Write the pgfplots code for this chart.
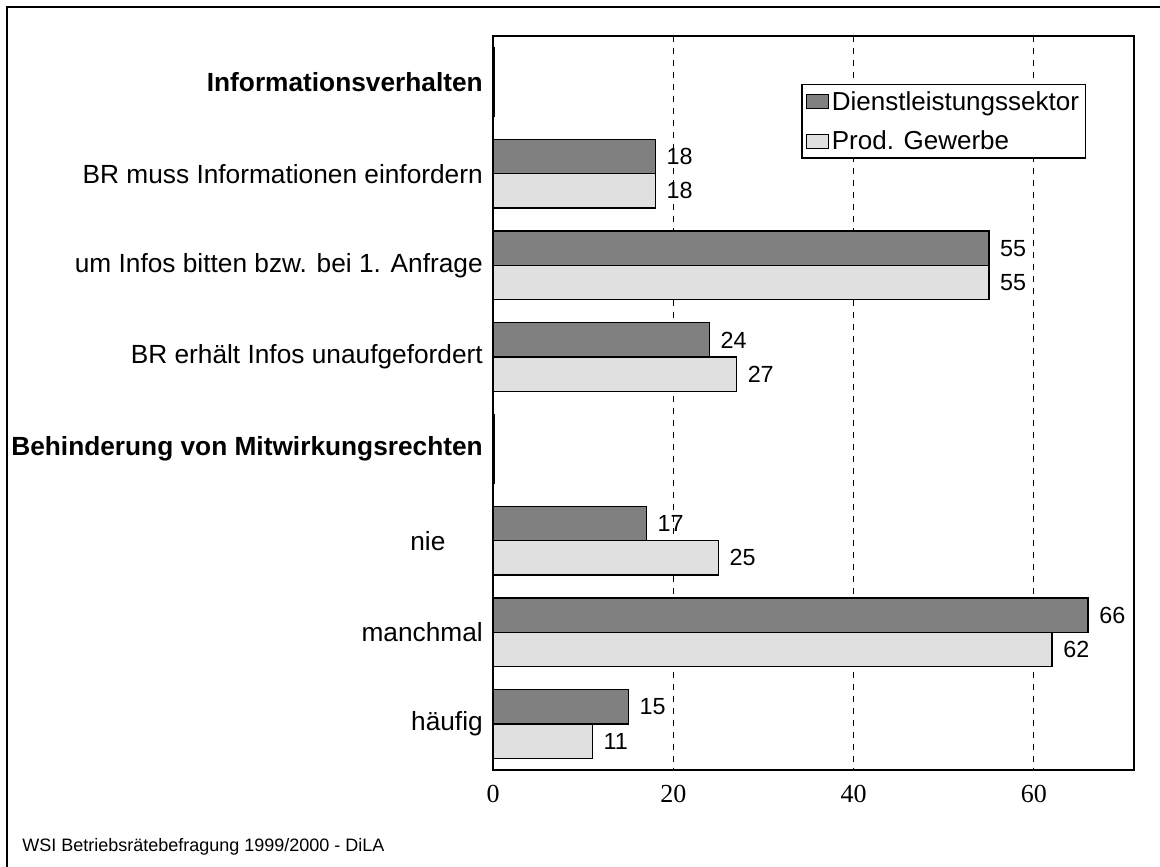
\documentclass[border=0pt]{standalone}
\usepackage{fontspec}
\setmainfont{Liberation Sans}
\newfontfamily\seriffont{Liberation Serif}
\usepackage{pgfplots}
\usepackage{pgfplotstable}
\pgfplotsset{compat=1.18}
\definecolor{darkbar}{RGB}{128,128,128}
\definecolor{lightbar}{RGB}{224,224,224}

\pgfplotstableread{
y v
1 18
2 55
3 24
5 17
6 66
7 15
}\dienst
\pgfplotstableread{
y v
1 18
2 55
3 27
5 25
6 62
7 11
}\prodg
\pgfplotstableread{
y v
0 0.1
4 0.1
}\headers

\begin{document}
\begin{tikzpicture}
\useasboundingbox (0,0) rectangle (870pt,650.25pt);
\draw[line width=1.5pt] (5.25pt,0) -- (5.25pt,645pt) -- (870pt,645pt);
\begin{axis}[
  at={(369.75pt,72.75pt)}, anchor=south west,
  scale only axis, width=480.75pt, height=550.5pt,
  clip=false,
  xbar, bar width=0.375,
  xmin=0, xmax=71.1, ymin=-0.5, ymax=7.5, y dir=reverse,
  xtick={0,20,40,60}, ytick={0,...,7},
  yticklabels={\textbf{Informationsverhalten},
    BR muss Informationen einfordern,
    um Infos bitten bzw. bei 1. Anfrage,
    BR erhält Infos unaufgefordert,
    \textbf{Behinderung von Mitwirkungsrechten},
    nie\hspace*{28pt},
    manchmal,
    häufig},
  major tick length=0pt,
  /pgf/number format/assume math mode=true,
  xmajorgrids,
  grid style={black, line width=0.75pt, dash pattern=on 4.5pt off 4.5pt},
  axis line style={line width=1.2pt},
  yticklabel style={font=\fontsize{19.7}{23}\selectfont, inner xsep=0pt, xshift=-7.5pt},
  xticklabel style={font=\seriffont\fontsize{19.5}{23}\selectfont, inner ysep=0pt, yshift=-11.5pt},
  nodes near coords={\pgfmathprintnumber{\pgfplotspointmeta}},
  nodes near coords style={font=\fontsize{17.5}{20}\selectfont, anchor=west, inner sep=0pt, xshift=8pt},
  legend style={at={(0.481,0.935)}, anchor=north west, draw=black, line width=1.2pt,
    font=\fontsize{19.5}{23}\selectfont, row sep=10pt, inner sep=3pt},
  legend cell align=left,
  legend image code/.code={\draw[#1, line width=0.8pt] (0pt,-5.25pt) rectangle (16.5pt,5.25pt);},
]
\addplot[fill=darkbar, draw=black, line width=1pt, bar shift=-0.1875] table[x=v,y=y] {\dienst};
\addplot[fill=lightbar, draw=black, line width=1pt, bar shift=0.1875] table[x=v,y=y] {\prodg};
\addplot[fill=black, draw=black, line width=1.2pt, bar shift=-0.1875, nodes near coords={}, forget plot] table[x=v,y=y] {\headers};
\addplot[fill=black, draw=black, line width=1.2pt, bar shift=0.1875, nodes near coords={}, forget plot] table[x=v,y=y] {\headers};
\legend{Dienstleistungssektor, Prod. Gewerbe}
\end{axis}
\node[anchor=base west, font=\fontsize{13.5}{16}\selectfont, inner sep=0pt] at (16.5pt,11.5pt) {WSI Betriebsrätebefragung 1999/2000 - DiLA};
\end{tikzpicture}
\end{document}
